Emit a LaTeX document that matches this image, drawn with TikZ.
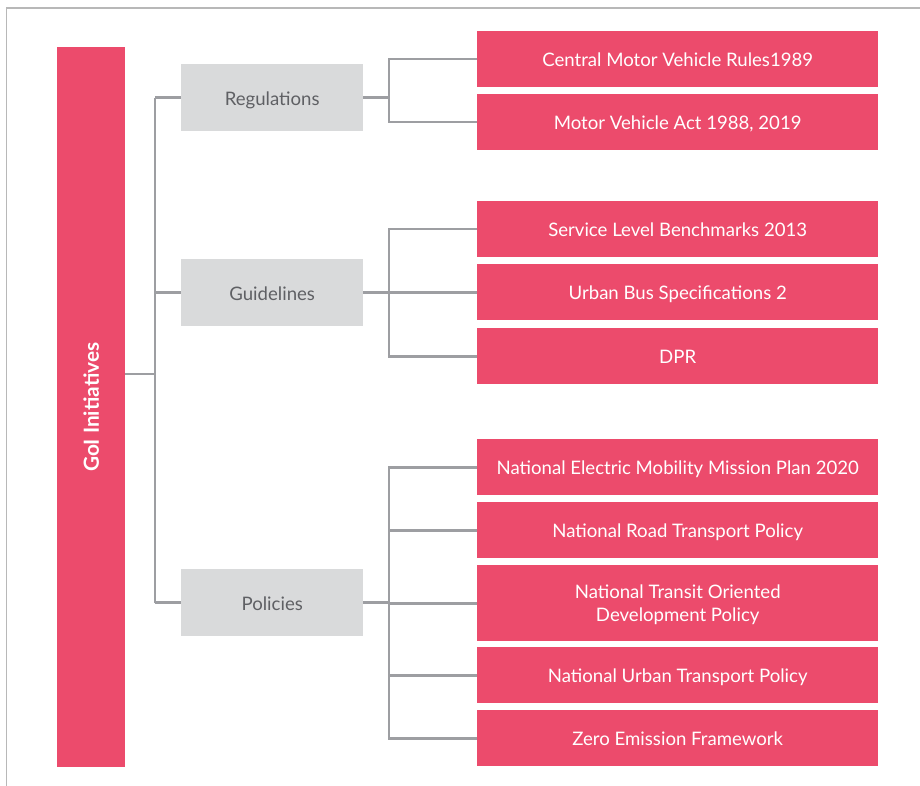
\documentclass[tikz,border=0pt]{standalone}
\usepackage{fontspec}
\setmainfont{Lato}
\definecolor{rose}{HTML}{EC4B6C}
\definecolor{pale}{HTML}{D9DADB}
\definecolor{wire}{HTML}{9D9EA2}
\definecolor{frameline}{HTML}{B8B8B8}
\definecolor{labelgray}{HTML}{5F6064}
\begin{document}
\begin{tikzpicture}[x=1pt,y=-1pt,
  leaf/.style={fill=rose,text=white,minimum width=401pt,minimum height=56pt,
    inner sep=0pt,font=\fontsize{18.6}{23}\selectfont,align=center,anchor=north west,
    text height=15.4pt,text depth=0pt},
  tallleaf/.style={fill=rose,text=white,minimum width=401pt,minimum height=76pt,
    inner sep=0pt,font=\fontsize{18.6}{23}\selectfont,align=center,anchor=north west,
    text depth=0pt},
  group/.style={fill=pale,text=labelgray,minimum width=182pt,minimum height=67pt,
    inner sep=0pt,font=\fontsize{18.6}{23}\selectfont,anchor=north west,
    text height=15.4pt,text depth=0pt},
  link/.style={draw=wire,line width=2.6pt}]
\useasboundingbox (0,0) rectangle (920,786);
% outer frame (top and left edges only)
\draw[frameline,line width=1.6pt] (6.5,786) -- (6.5,8) -- (920,8);

% root bar
\node[fill=rose,minimum width=68pt,minimum height=720pt,inner sep=0pt,anchor=north west]
  (root) at (57,47) {};
\node[rotate=90,text=white,font=\bfseries\fontsize{20.8}{25}\selectfont] (rootlabel) at (root.center) {GoI Initiatives};

% groups
\node[group] (reg) at (181,64) {Regulations};
\node[group] (gui) at (181,259) {Guidelines};
\node[group] (pol) at (181,569) {Policies};

% leaves
\node[leaf] (cmvr) at (477,31) {Central Motor Vehicle Rules1989};
\node[leaf] (mva)  at (477,94) {Motor Vehicle Act 1988, 2019};
\node[leaf] (slb)  at (477,201) {Service Level Benchmarks 2013};
\node[leaf] (ubs)  at (477,264) {Urban Bus Specifications 2};
\node[leaf] (dpr)  at (477,328) {DPR};
\node[leaf] (nemm) at (477,439) {National Electric Mobility Mission Plan 2020};
\node[leaf] (nrtp) at (477,502) {National Road Transport Policy};
\node[tallleaf] (ntod) at (477,565) {National Transit Oriented\\Development Policy};
\node[leaf] (nutp) at (477,647) {National Urban Transport Policy};
\node[leaf] (zef)  at (477,710) {Zero Emission Framework};

% bus coordinates
\coordinate (trunk) at (155,374);
\coordinate (regbus) at (389,97);
\coordinate (guibus) at (389,293);
\coordinate (polbus) at (389,605);

% root to groups
\draw[link] (root.east |- trunk) -- (trunk);
\draw[link] (trunk |- reg.west) -- (trunk |- pol.west);
\draw[link] (trunk |- reg.west) -- (reg.west);
\draw[link] (trunk |- gui.west) -- (gui.west);
\draw[link] (trunk |- pol.west) -- (pol.west);

% regulations
\draw[link] (reg.east) -- (regbus |- reg.east);
\draw[link] (cmvr.west) -| (regbus |- reg.east) |- (mva.west);

% guidelines
\draw[link] (gui.east) -- (guibus |- gui.east);
\draw[link] (slb.west) -| (guibus |- gui.east) |- (dpr.west);
\draw[link] (guibus |- ubs.west) -- (ubs.west);

% policies
\draw[link] (pol.east) -- (polbus |- pol.east);
\draw[link] (nemm.west) -| (polbus) |- (zef.west);
\draw[link] (polbus |- nrtp.west) -- (nrtp.west);
\draw[link] (polbus |- ntod.west) -- (ntod.west);
\draw[link] (polbus |- nutp.west) -- (nutp.west);
\end{tikzpicture}
\end{document}
